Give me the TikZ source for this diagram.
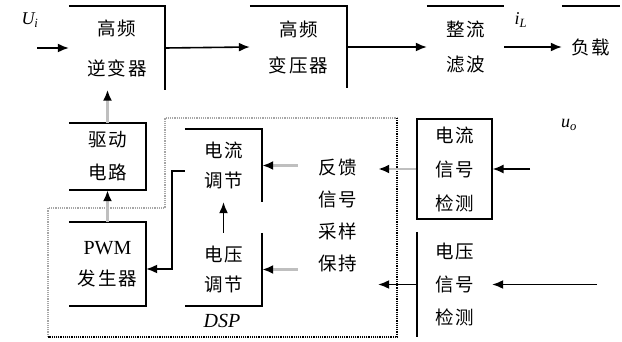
\documentclass[tikz,border=0pt]{standalone}
\usepackage{fontspec}
\setmainfont{Liberation Serif}
\newfontfamily\cjk[LetterSpace=10]{Noto Sans CJK SC}
\usetikzlibrary{arrows.meta,calc}

\begin{document}
\begin{tikzpicture}[x=1pt,y=-1pt,
  box/.style={rectangle, inner sep=0pt, align=center},
  zh/.style={font=\cjk\fontsize{18.5}{#1}\selectfont},
  edge/.style={line width=1.6pt, black},
  flow/.style={line width=1.6pt, -{Latex[length=11pt,width=9pt]}},
  ctrl/.style={line width=2.5pt, gray!50, -{Latex[length=11pt,width=9pt,black]}},
  dspline/.style={line width=1.2pt, densely dotted},
  var/.style={font=\fontsize{18}{20}\selectfont\itshape, inner sep=0pt}]
\useasboundingbox (0,0) rectangle (622,342);

% power path
\node[box, zh=40, minimum width=96pt, minimum height=83pt] (inv) at (117,48) {高频\\逆变器};
\node[box, zh=36, minimum width=97pt, minimum height=81pt] (trans) at (298.5,47) {高频\\变压器};
\node[box, zh=35, minimum width=77pt, minimum height=81pt] (rect) at (465.5,47) {整流\\滤波};
\node[box, zh=20, minimum width=58pt, minimum height=81pt] (load) at (591,47) {负载};

% control blocks
\node[box, zh=33, minimum width=77pt, minimum height=67pt] (drv) at (107.5,156.5) {驱动\\电路};
\node[box, zh=31, minimum width=77pt, minimum height=84pt] (pwm) at (107.5,264)
  {{\rmfamily\fontsize{20}{31}\selectfont PWM}\\发生器};
\node[box, zh=30, minimum width=77pt, minimum height=73pt] (ireg) at (223.5,165.5) {电流\\调节};
\node[box, zh=30, minimum width=77pt, minimum height=73pt] (vreg) at (223.5,269.5) {电压\\调节};
\node[box, zh=32, minimum width=80pt, minimum height=140pt] (fb) at (338,215) {反馈\\信号\\采样\\保持};
\node[box, zh=34, minimum width=75pt, minimum height=100pt, draw, line width=1.2pt] (idet) at (454.5,169) {电流\\信号\\检测};
\node[box, zh=33, minimum width=75pt, minimum height=105pt] (vdet) at (454.5,284.5) {电压\\信号\\检测};

% variable labels
\node[var] (ui) at (30,20) {U\textsubscript{i}};
\node[var] (il) at (521,20) {i\textsubscript{L}};
\node[var] (uo) at (569,125) {u\textsubscript{o}};
\node[font=\fontsize{20}{22}\selectfont\itshape, inner sep=0pt] (dsp) at (222,321) {DSP};

% free ends of the input arrows
\coordinate (uin) at (37,48);
\coordinate (iin) at (530,169);
\coordinate (vin) at (597,284.5);

% visible box edges
\draw[edge] (inv.north west) -- (inv.north east) -- (inv.south east);
\draw[edge] (trans.north west) -- (trans.north east) -- (trans.south east);
\draw[edge] (rect.north west) -- (rect.north east);
\draw[edge] (load.north west) -- (load.north east);
\draw[edge] (drv.north west) -- (drv.north east) -- (drv.south east) -- (drv.south west);
\draw[edge] (pwm.north west) -- (pwm.north east) -- (pwm.south east) -- (pwm.south west);
\draw[edge] (ireg.north west) -- (ireg.north east) -- (ireg.south east);
\draw[edge] (vreg.north east) -- (vreg.south east) -- (vreg.south west);
\draw[edge] (vdet.north west) -- (vdet.south west);

% DSP boundary
\coordinate (d1) at (165,118);
\coordinate (d2) at (397,118);
\coordinate (d3) at (397,337);
\coordinate (d4) at (48,337);
\coordinate (d5) at (48,208);
\coordinate (d6) at (165,208);
\draw[dspline, gray!70] (d4) -- (d5) -- (d6) -- (d1) -- (d2);
\draw[dspline, black] (d2) -- (d3) -- (d4);

% power flow
\draw[flow] (uin) -- (inv.west);
\draw[flow] (inv.east) -- (trans.west);
\draw[flow] (trans.east) -- (rect.west);
\draw[flow] (rect.east) -- (load.west);

% control signals
\draw[ctrl] (drv.north) -- (drv.north |- inv.south);
\draw[ctrl] (pwm.north) -- (drv.south);
\draw[flow] (vreg.north) -- (ireg.south);
\coordinate (elbow) at (172,269);
\draw[flow] ($(ireg.west)+(0,5.5)$) -| (elbow) -- (pwm.east |- elbow);
\draw[ctrl] (fb.west |- ireg.east) -- (ireg.east);
\draw[ctrl] (fb.west |- vreg.east) -- (vreg.east);
\draw[ctrl] (idet.west) -- (fb.east |- idet.west);
\draw[flow] (vdet.west) -- (fb.east |- vdet.west);
\draw[flow] (iin) -- (idet.east);
\draw[flow] (vin) -- (vdet.east);
\end{tikzpicture}
\end{document}
